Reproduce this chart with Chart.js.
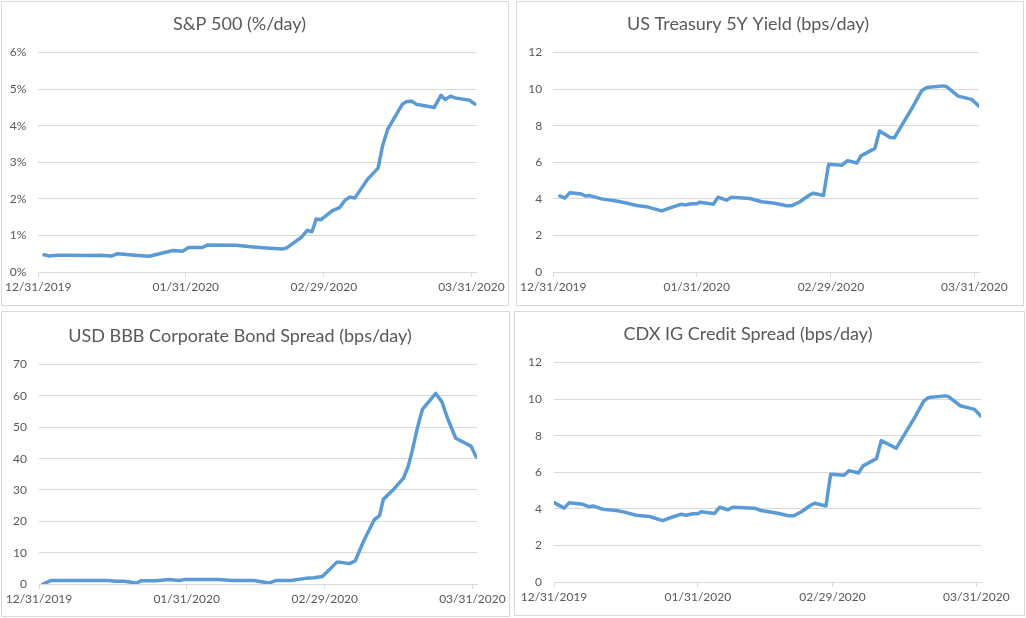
<!DOCTYPE html>
<html>
<head>
<meta charset="utf-8">
<script src="https://cdn.jsdelivr.net/npm/chart.js@4.4.1/dist/chart.umd.min.js"></script>
<style>
  html, body { margin: 0; padding: 0; background: #ffffff; overflow: hidden; }
  body { width: 1026px; height: 618px; position: relative; }
  .panel { position: absolute; border: 1px solid #d9d9d9; background: #fff; }
  .panel canvas { display: block; }
</style>
</head>
<body>
<div class="panel" id="p1" style="left:1px;top:1px;width:506px;height:303px;"><canvas id="c1"></canvas></div>
<div class="panel" id="p2" style="left:516px;top:1px;width:506px;height:303px;"><canvas id="c2"></canvas></div>
<div class="panel" id="p3" style="left:1px;top:311px;width:507px;height:304px;"><canvas id="c3"></canvas></div>
<div class="panel" id="p4" style="left:514px;top:311px;width:509px;height:303px;"><canvas id="c4"></canvas></div>
<script>
// ---- Data (x = days since 12/31/2019) ----
const xTickDays   = [0, 31, 60, 91];
const xTickLabels = ['12/31/2019', '01/31/2020', '02/29/2020', '03/31/2020'];
const xMaxDay = 92;

const spDays   = [1.2, 2.2, 4, 7, 10, 13, 15.5, 16.7, 20.3, 23.3, 28.3, 30.3, 31.6, 34.5, 35.6, 41.5, 45.7, 48.7, 51.3, 52.2, 55.3, 56.5, 57.5, 58.4, 59.4, 61.8, 63.3, 64.5, 65.5, 66.5, 69.2, 71.4, 72.3, 73.4, 76.5, 77.4, 78.5, 79.4, 83.2, 84.6, 85.5, 86.6, 87.6, 90.6, 91.4, 92];
const spValues = [0.47, 0.44, 0.46, 0.46, 0.45, 0.46, 0.44, 0.50, 0.46, 0.43, 0.59, 0.57, 0.67, 0.67, 0.74, 0.73, 0.68, 0.65, 0.63, 0.66, 0.95, 1.14, 1.10, 1.45, 1.43, 1.68, 1.76, 1.97, 2.05, 2.02, 2.54, 2.84, 3.43, 3.90, 4.59, 4.66, 4.67, 4.59, 4.50, 4.83, 4.72, 4.81, 4.76, 4.70, 4.62, 4.58];

const ustDays   = [1.4, 2.5, 3.6, 6.1, 6.9, 7.9, 10.4, 13.3, 15.5, 18.0, 20.5, 23.4, 24.8, 27.7, 28.4, 29.9, 31.0, 31.7, 34.6, 35.6, 37.4, 38.5, 42.5, 45.0, 47.9, 50.4, 51.5, 53.3, 55.3, 56.2, 58.4, 59.5, 62.4, 63.6, 65.6, 66.5, 69.5, 70.5, 72.8, 73.7, 77.5, 79.6, 80.7, 84.3, 85.0, 87.5, 90.4, 92];
const ustValues = [4.16, 4.04, 4.34, 4.27, 4.16, 4.18, 4.00, 3.90, 3.79, 3.64, 3.55, 3.34, 3.47, 3.71, 3.67, 3.73, 3.73, 3.82, 3.71, 4.09, 3.93, 4.09, 4.02, 3.84, 3.76, 3.62, 3.62, 3.84, 4.20, 4.31, 4.18, 5.89, 5.84, 6.09, 5.96, 6.35, 6.76, 7.71, 7.36, 7.34, 8.95, 9.91, 10.09, 10.18, 10.14, 9.62, 9.44, 9.07];

const bbbDays   = [0.8, 2.6, 14.4, 16.2, 17.9, 20.4, 21.4, 24.6, 27.3, 29.4, 30.5, 37.5, 40.6, 45.1, 48.3, 49.7, 52.8, 56.0, 57.7, 59.5, 62.5, 63.4, 65.2, 66.4, 68.3, 70.4, 71.5, 72.3, 74.2, 76.5, 77.5, 78.4, 79.5, 80.5, 83.3, 84.6, 85.8, 87.5, 90.7, 91.7, 92];
const bbbValues = [0, 1.15, 1.15, 0.85, 0.85, 0.3, 1.0, 1.0, 1.4, 1.1, 1.4, 1.4, 1.1, 1.1, 0.3, 1.1, 1.1, 1.8, 2.0, 2.4, 6.9, 6.9, 6.5, 7.4, 14.1, 20.5, 21.8, 27.0, 29.8, 33.7, 37.4, 42.7, 50.1, 55.7, 60.8, 58.1, 52.8, 46.5, 44.0, 40.8, 40.4];

const cdxDays   = [0, 2.2, 3.3, 6.2, 7.5, 8.4, 10.5, 13.4, 15.2, 17.7, 20.6, 23.4, 24.9, 27.4, 28.5, 29.9, 31.0, 31.7, 34.6, 35.7, 37.5, 38.5, 43.2, 44.6, 48.2, 50.5, 51.7, 53.3, 55.3, 56.2, 58.6, 59.6, 62.5, 63.6, 65.6, 66.6, 69.5, 70.5, 72.8, 73.7, 77.6, 79.7, 80.7, 84.3, 85.0, 87.5, 90.6, 92];
const cdxValues = [4.34, 4.04, 4.34, 4.25, 4.12, 4.16, 3.98, 3.91, 3.82, 3.65, 3.58, 3.36, 3.50, 3.71, 3.65, 3.73, 3.73, 3.84, 3.75, 4.09, 3.95, 4.09, 4.04, 3.91, 3.76, 3.62, 3.62, 3.84, 4.20, 4.31, 4.16, 5.89, 5.84, 6.09, 5.96, 6.35, 6.76, 7.73, 7.44, 7.31, 8.95, 9.91, 10.09, 10.18, 10.14, 9.64, 9.44, 9.06];

const titles = [
  'S&P 500 (%/day)',
  'US Treasury 5Y Yield (bps/day)',
  'USD BBB Corporate Bond Spread (bps/day)',
  'CDX IG Credit Spread (bps/day)'
];

// ---- Styles ----
const LINE = '#5b9bd5';
const GRID = '#d9d9d9';
const TEXT = '#595959';
const FONT = 'Lato, "Open Sans", sans-serif';

function makeChart(id, w, h, title, days, values, yMax, yStep, yFmt, lay) {
  const cv = document.getElementById(id);
  cv.width = w; cv.height = h;
  cv.style.width = w + 'px'; cv.style.height = h + 'px';
  const pts = days.map((d, i) => ({ x: d, y: values[i] }));
  return new Chart(cv, {
    type: 'line',
    data: { datasets: [{ data: pts, borderColor: LINE, borderWidth: 3.5, pointRadius: 0, tension: 0, fill: false, borderJoinStyle: 'round', borderCapStyle: 'round' }] },
    options: {
      responsive: false, animation: false, devicePixelRatio: 1,
      layout: { padding: { left: 0, right: lay.padR, top: 0, bottom: 0 } },
      plugins: {
        legend: { display: false }, tooltip: { enabled: false },
        title: { display: true, text: title, color: TEXT, font: { family: FONT, size: 18, weight: 'normal', lineHeight: 1.2 }, padding: { top: lay.tTop, bottom: lay.tBot } }
      },
      scales: {
        x: {
          type: 'linear', min: 0, max: xMaxDay,
          afterBuildTicks: s => { s.ticks = xTickDays.map(v => ({ value: v })); },
          afterFit: s => { s.height = lay.xH; },
          ticks: { color: TEXT, font: { family: FONT, size: 12 }, padding: 3, maxRotation: 0, autoSkip: false,
                   callback: v => { const i = xTickDays.indexOf(v); return i >= 0 ? xTickLabels[i] : ''; } },
          grid: { drawOnChartArea: false, drawTicks: true, tickLength: 5, color: GRID },
          border: { display: true, color: GRID, width: 1 }
        },
        y: {
          min: 0, max: yMax,
          afterFit: s => { s.width = lay.yW; },
          ticks: { stepSize: yStep, color: TEXT, font: { family: FONT, size: 12 }, padding: lay.yPad, callback: yFmt },
          grid: { drawTicks: false, color: GRID, lineWidth: 1 },
          border: { display: false }
        }
      }
    }
  });
}

makeChart('c1', 506, 303, titles[0], spDays, spValues, 6, 1, v => v + '%',
  { padR: 31, yW: 36, xH: 33, tTop: 11, tBot: 18, yPad: 12 });
makeChart('c2', 506, 303, titles[1], ustDays, ustValues, 12, 2, v => v,
  { padR: 44, yW: 36, xH: 33, tTop: 11, tBot: 18, yPad: 11 });
makeChart('c3', 507, 304, titles[2], bbbDays, bbbValues, 70, 10, v => v,
  { padR: 31, yW: 37, xH: 32, tTop: 13, tBot: 18, yPad: 12 });
makeChart('c4', 509, 303, titles[3], cdxDays, cdxValues, 12, 2, v => v,
  { padR: 43, yW: 39, xH: 33, tTop: 11, tBot: 18, yPad: 12 });
</script>
</body>
</html>
